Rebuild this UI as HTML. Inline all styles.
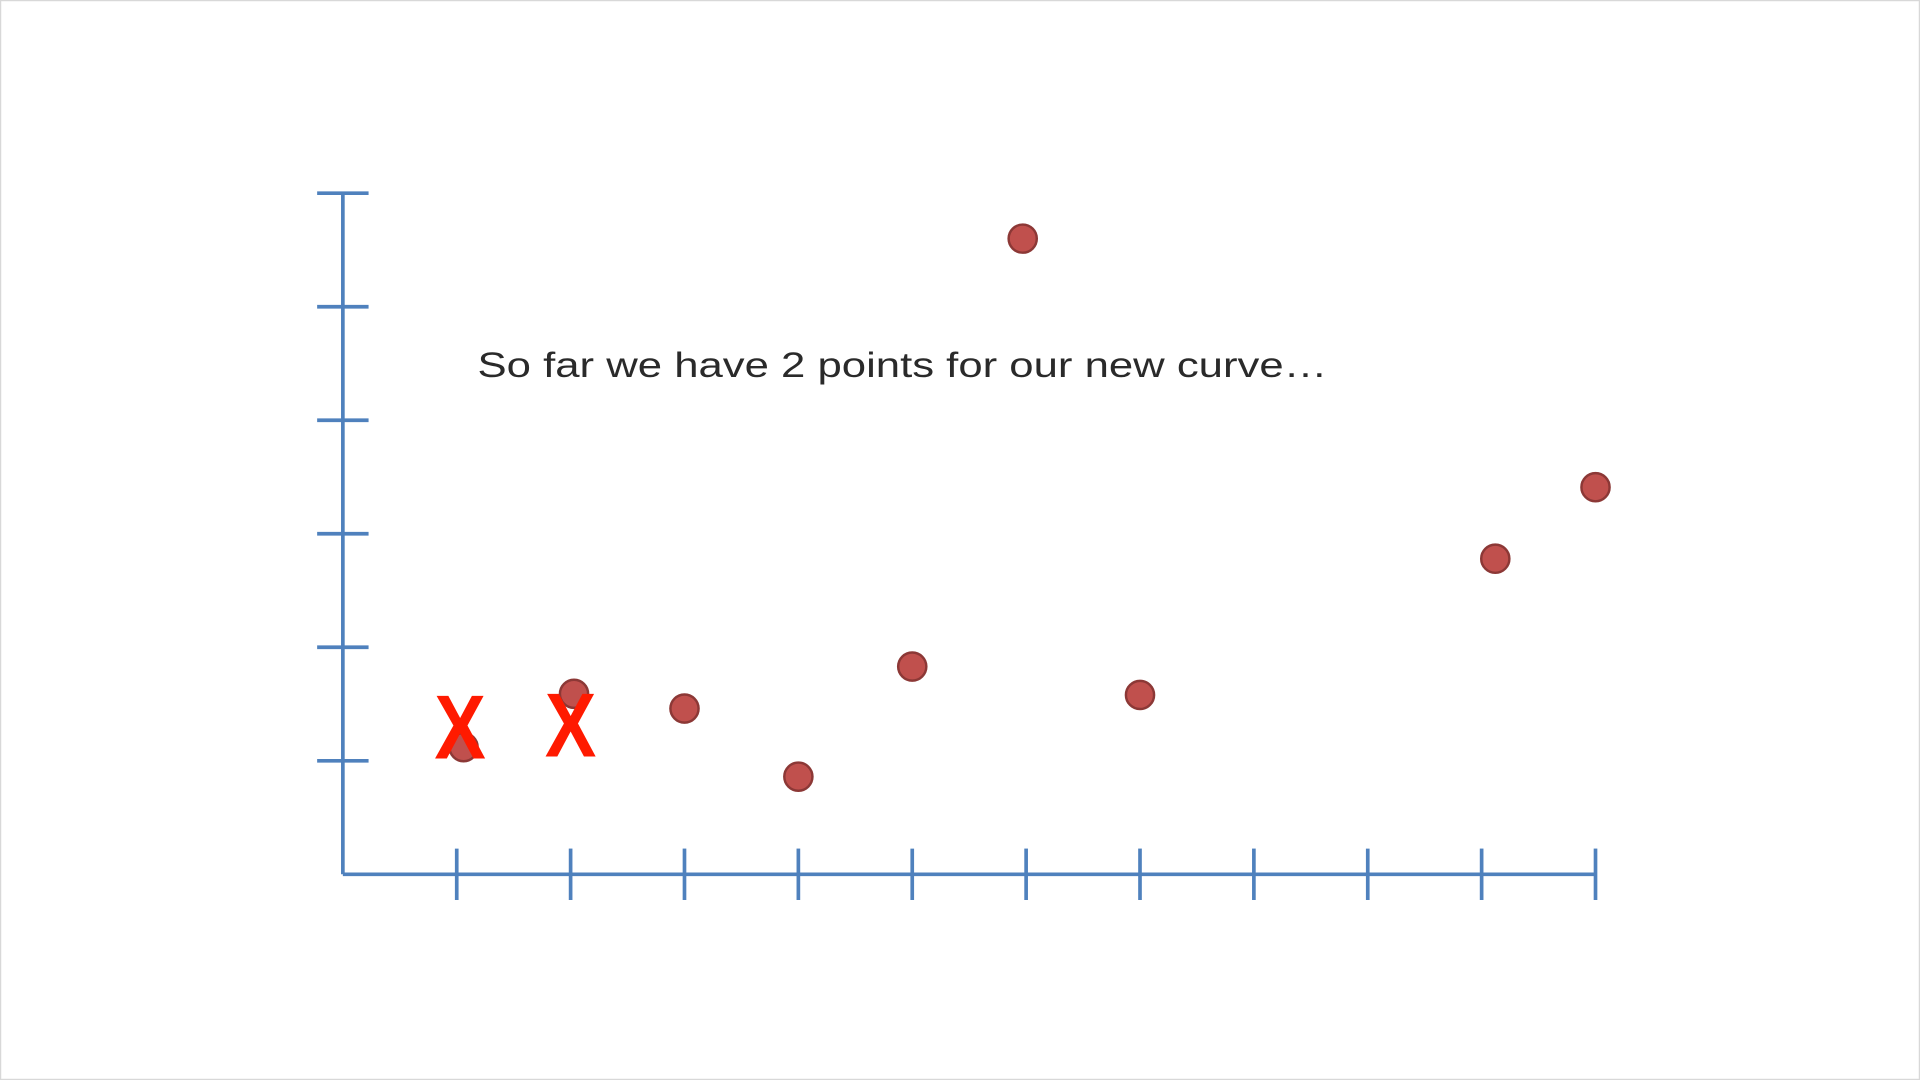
<!DOCTYPE html>
<html><head><meta charset="utf-8"><style>
html,body{margin:0;padding:0;background:#fff;}
svg{display:block;}
</style></head><body>
<svg id="chart" width="1920" height="1080" viewBox="0 0 1568 882" xmlns="http://www.w3.org/2000/svg">
<rect x="0.5" y="0.5" width="1567" height="881" fill="#fff" stroke="#d8d8d8" stroke-width="1"/>
<g id="axes"></g>
<g id="points"></g>
<text x="390" y="308" font-family="'Liberation Sans', sans-serif" font-size="29" fill="#2a2a2a" textLength="694" lengthAdjust="spacingAndGlyphs">So far we have 2 points for our new curve…</text>
<g id="marks"></g>
</svg>
<script>
const xTicks = [1,2,3,4,5,6,7,8,9,10,11];
const yTicks = [1,2,3,4,5,6];
const xValues = [1.06,2.03,3.0,4.0,5.0,5.97,7.0,10.12,11.0];
const yValues = [1.12,1.59,1.46,0.86,1.83,5.6,1.58,2.78,3.41];
const xMarkX = [1.03,2.0];
const xMarkY = [1.31,1.33];
const NS='http://www.w3.org/2000/svg';
const ox=280, oy=714, ux=93, uy=92.7;
function sx(v){return ox+v*ux;}
function sy(v){return oy-v*uy;}
function mk(tag,attrs,parent){const e=document.createElementNS(NS,tag);for(const k in attrs)e.setAttribute(k,attrs[k]);parent.appendChild(e);return e;}
const axes=document.getElementById('axes');
const blue='#4f81bd';
let l=mk('line',{x1:sx(0),y1:sy(0),x2:sx(11),y2:sy(0),stroke:blue,'stroke-width':3},axes);


l=mk('line',{x1:sx(0),y1:sy(0),x2:sx(0),y2:sy(6),stroke:blue,'stroke-width':3},axes);


xTicks.forEach(t=>{const e=mk('line',{x1:sx(t),y1:oy-21,x2:sx(t),y2:oy+21,stroke:blue,'stroke-width':3},axes);

});
yTicks.forEach(t=>{const e=mk('line',{x1:ox-21,y1:sy(t),x2:ox+21,y2:sy(t),stroke:blue,'stroke-width':3},axes);

});
const pts=document.getElementById('points');
xValues.forEach((x,i)=>{const c=mk('circle',{cx:sx(x),cy:sy(yValues[i]),r:11.5,fill:'#c0504d',stroke:'#8c3836','stroke-width':2},pts);

});
const marks=document.getElementById('marks');
xMarkX.forEach((x,i)=>{const t=mk('text',{x:sx(x)-21,y:sy(xMarkY[i])+27,'font-family':"'Liberation Sans', sans-serif",'font-weight':'bold','font-size':74,fill:'#ff1a00',textLength:42,lengthAdjust:'spacingAndGlyphs'},marks);
t.textContent='X';

});
</script>
</body></html>
